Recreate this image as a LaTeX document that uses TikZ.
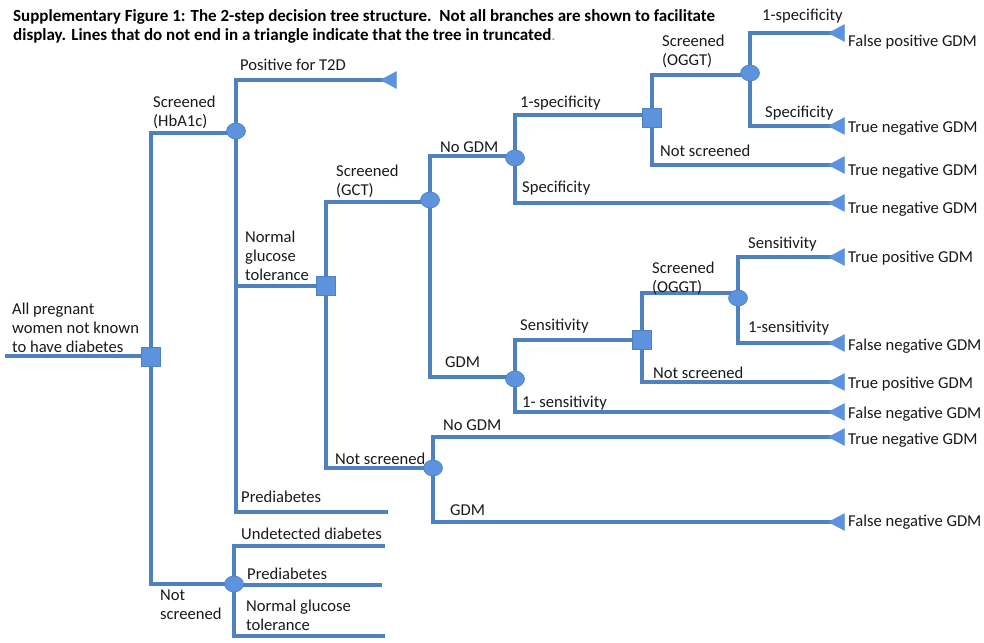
\documentclass[tikz,border=0pt]{standalone}
\usepackage{fontspec}
\setmainfont{Carlito}
\usetikzlibrary{shapes.geometric,backgrounds}
\definecolor{lineblue}{RGB}{79,129,189}
\definecolor{nodeblue}{RGB}{92,146,222}
\begin{document}
\begin{tikzpicture}[x=1pt,y=-1pt,
  branch/.style={draw=lineblue, line width=3.1pt},
  decnode/.style={rectangle, fill=nodeblue, draw=lineblue, line width=0.6pt, minimum size=19pt, inner sep=0pt},
  chancenode/.style={ellipse, fill=nodeblue, draw=lineblue, line width=0.6pt, minimum width=19pt, minimum height=16pt, inner sep=0pt},
  termnode/.style={isosceles triangle, isosceles triangle stretches, shape border rotate=180, fill=nodeblue, draw=nodeblue, line width=0.4pt, minimum height=16pt, minimum width=17pt, inner sep=0pt, anchor=apex},
  lbl/.style={anchor=west, font=\fontsize{16.6}{19}\selectfont, align=left, inner sep=0pt, text=black!90},
  title/.style={anchor=west, font=\bfseries\fontsize{17}{19}\selectfont, inner sep=0pt, text=black}]
\useasboundingbox (0,0) rectangle (984,642);
\node[title] (tt1) at (13,17) {Supplementary Figure 1: The 2-step decision tree structure.\ \ Not all branches are shown to facilitate};
\node[title] (tt2) at (13,36) {display. Lines that do not end in a triangle indicate that the tree in truncated\textmd{\textcolor{black!40}{.}}};
% decision and chance nodes
\coordinate (s0) at (5,356);
\node[decnode] (R) at (151,357) {};
\node[chancenode] (H) at (236,131) {};
\node[decnode] (S2) at (326,286) {};
\node[chancenode] (C3) at (430,200) {};
\node[chancenode] (C5) at (515,158) {};
\node[decnode] (S7) at (652,118) {};
\node[chancenode] (C8) at (750,73) {};
\node[chancenode] (C6) at (515,379) {};
\node[decnode] (S9) at (642,340) {};
\node[chancenode] (C10) at (738,298) {};
\node[chancenode] (C4) at (433,468) {};
\node[chancenode] (Rn) at (234,584) {};
% terminal triangles
\node[termnode] (tT2D) at (380,80) {};
\node[termnode] (t1) at (828,33) {};
\node[termnode] (t2) at (828,126) {};
\node[termnode] (t3) at (828,165) {};
\node[termnode] (t4) at (828,203) {};
\node[termnode] (t5) at (828,257) {};
\node[termnode] (t6) at (828,343) {};
\node[termnode] (t7) at (828,382) {};
\node[termnode] (t8) at (828,412) {};
\node[termnode] (t9) at (828,437) {};
\node[termnode] (t10) at (828,522) {};
% truncated ends
\coordinate (p1) at (388,512);
\coordinate (u1) at (385,546);
\coordinate (u2) at (382,585);
\coordinate (u3) at (385,636);
\begin{scope}[on background layer]
\draw[branch] (s0) -- (s0 -| R);
\draw[branch] (R.center) |- (H.center |- 0,133);
\draw[branch] (R.center) |- (Rn.center);
\draw[branch] (H.center) |- (tT2D.center);
\draw[branch] (H.center) |- (S2.center);
\draw[branch] (H.center) |- (p1);
\draw[branch] (S2.center) |- (C3.center |- 0,202);
\draw[branch] (S2.center) |- (C4.center);
\draw[branch] (C3.center) |- (C5.center |- 0,156);
\draw[branch] (C3.center) |- (C6.center |- 0,377);
\draw[branch] (C5.center) |- (S7.center |- 0,115);
\draw[branch] (C5.center) |- (t4.center);
\draw[branch] (S7.center) |- (C8.center |- 0,75);
\draw[branch] (S7.center) |- (t3.center);
\draw[branch] (C8.center) |- (t1.center);
\draw[branch] (C8.center) |- (t2.center);
\draw[branch] (C6.center) |- (S9.center);
\draw[branch] (C6.center) |- (t8.center);
\draw[branch] (S9.center) |- (C10.center |- 0,293);
\draw[branch] (S9.center) |- (t7.center);
\draw[branch] (C10.center) |- (t5.center);
\draw[branch] (C10.center) |- (t6.center);
\draw[branch] (C4.center) |- (t9.center);
\draw[branch] (C4.center) |- (t10.center);
\draw[branch] (Rn.center) |- (u1);
\draw[branch] (Rn.center) |- (u2);
\draw[branch] (Rn.center) |- (u3);
\end{scope}
% branch labels
\node[lbl] (lroot) at (12,328) {All pregnant\\women not known\\to have diabetes};
\node[lbl] (lhb) at (153,112) {Screened\\(HbA1c)};
\node[lbl] (lt2d) at (240,65) {Positive for T2D};
\node[lbl] (lngt) at (245,256) {Normal\\glucose\\tolerance};
\node[lbl] (lpre1) at (241,497) {Prediabetes};
\node[lbl] (lns0) at (160,605) {Not\\screened};
\node[lbl] (lund) at (241,534) {Undetected diabetes};
\node[lbl] (lpre2) at (247,574) {Prediabetes};
\node[lbl] (lngt2) at (246,615) {Normal glucose\\tolerance};
\node[lbl] (lgct) at (336,181) {Screened\\(GCT)};
\node[lbl] (lns1) at (335,459) {Not screened};
\node[lbl] (lnogdm) at (440,147) {No GDM};
\node[lbl] (lgdm) at (445,362) {GDM};
\node[lbl] (lsp1) at (520,103) {1-specificity};
\node[lbl] (lsp2) at (522,188) {Specificity};
\node[lbl] (logt1) at (662,51) {Screened\\(OGGT)};
\node[lbl] (lns2) at (660,151) {Not screened};
\node[lbl] (lsp3) at (762,16) {1-specificity};
\node[lbl] (lsp4) at (765,113) {Specificity};
\node[lbl] (lse1) at (520,326) {Sensitivity};
\node[lbl] (lse2) at (522,403) {1- sensitivity};
\node[lbl] (logt2) at (652,278) {Screened\\(OGGT)};
\node[lbl] (lns3) at (653,373) {Not screened};
\node[lbl] (lse3) at (748,244) {Sensitivity};
\node[lbl] (lse4) at (748,328) {1-sensitivity};
\node[lbl] (lnogdm2) at (443,425) {No GDM};
\node[lbl] (lgdm2) at (450,510) {GDM};
% outcome labels
\node[lbl] (o1) at (848,42) {False positive GDM};
\node[lbl] (o2) at (848,128) {True negative GDM};
\node[lbl] (o3) at (848,171) {True negative GDM};
\node[lbl] (o4) at (848,209) {True negative GDM};
\node[lbl] (o5) at (848,258) {True positive GDM};
\node[lbl] (o6) at (848,346) {False negative GDM};
\node[lbl] (o7) at (848,384) {True positive GDM};
\node[lbl] (o8) at (848,414) {False negative GDM};
\node[lbl] (o9) at (848,440) {True negative GDM};
\node[lbl] (o10) at (848,522) {False negative GDM};
\end{tikzpicture}
\end{document}
